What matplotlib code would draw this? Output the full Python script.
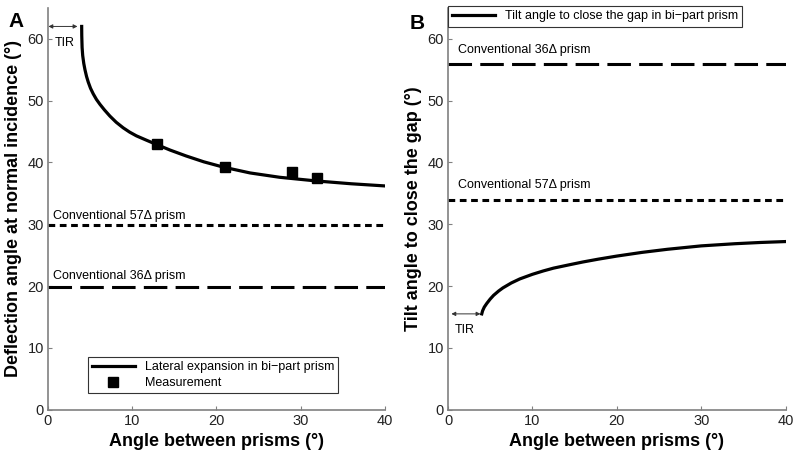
import numpy as np
import matplotlib.pyplot as plt

plt.rcParams['font.family'] = ['Liberation Sans', 'DejaVu Sans']

# ---- data ----
# panel A: lateral expansion in bi-part prism
a_x = [4.0, 4.01, 4.05, 4.12, 4.25, 4.39, 4.58, 4.78, 5.05, 5.37, 5.75, 6.17, 6.7,
       7.35, 8.1, 8.93, 9.7, 10.5, 11.6, 12.9, 14.5, 16.4, 18.5, 20.8, 24.0,
       27.5, 31.9, 36.0, 40.0]
a_y = [62.0, 60.5, 58.6, 57.3, 56.0, 55.0, 53.9, 53.0, 52.0, 51.1, 50.2, 49.4, 48.5,
       47.5, 46.5, 45.6, 44.9, 44.3, 43.65, 42.9, 42.0, 41.05, 40.1, 39.25, 38.3,
       37.6, 37.0, 36.55, 36.2]
meas_x = [13, 21, 29, 32]
meas_y = [43.0, 39.2, 38.5, 37.5]
a_57 = 29.8
a_36 = 19.8

# panel B: tilt angle to close the gap
b_x = [4.0, 4.1, 4.3, 4.6, 5.0, 5.4, 6.0, 6.5, 7.5, 8.5, 10.0, 11.3, 12.5, 14.4,
       16.0, 17.8, 20.0, 23.0, 26.0, 30.0, 34.0, 37.0, 40.0]
b_y = [15.5, 16.0, 16.6, 17.2, 17.9, 18.5, 19.2, 19.7, 20.5, 21.15, 21.9, 22.45,
       22.9, 23.45, 23.9, 24.35, 24.85, 25.45, 25.95, 26.5, 26.85, 27.05, 27.2]
b_36 = 56.0
b_57 = 34.0

xlim = (0, 40)
ylim = (0, 65)

dotted = (0, (2.2, 1.5))
dashed = (0, (7.7, 2.7))
spine_col = '#808080'


def style_axes(ax, ylabel):
    ax.set_xlim(*xlim)
    ax.set_ylim(*ylim)
    ax.set_xticks([0, 10, 20, 30, 40])
    ax.set_yticks([0, 10, 20, 30, 40, 50, 60])
    for s in ['top', 'right']:
        ax.spines[s].set_visible(False)
    for s in ['left', 'bottom']:
        ax.spines[s].set_color(spine_col)
        ax.spines[s].set_linewidth(1.2)
    ax.tick_params(direction='in', length=3, color=spine_col, labelsize=10.5,
                   labelcolor='#222222', pad=3)
    ax.set_xlabel('Angle between prisms (°)', fontsize=13, fontweight='bold', labelpad=4)
    ax.set_ylabel(ylabel, fontsize=13, fontweight='bold', labelpad=4)


fig = plt.figure(figsize=(8, 4.54), dpi=100)
ax1 = fig.add_axes([0.06, 0.0976, 0.421, 0.885])
ax2 = fig.add_axes([0.560, 0.0976, 0.422, 0.885])

# ---- panel A ----
ax1.plot(a_x, a_y, color='black', lw=2.3, solid_joinstyle='round',
         label='Lateral expansion in bi\u2212part prism')
ax1.plot(meas_x, meas_y, 's', color='black', ms=6.5, label='Measurement')
ax1.plot(xlim, [a_57, a_57], color='black', lw=2.2, linestyle=dotted)
ax1.plot(xlim, [a_36, a_36], color='black', lw=2.2, linestyle=dashed)
ax1.text(0.63, a_57 + 1.1, 'Conventional 57\u0394 prism', fontsize=9, va='baseline')
ax1.text(0.63, a_36 + 1.3, 'Conventional 36\u0394 prism', fontsize=9, va='baseline')
ax1.annotate('', xy=(0.05, 62), xytext=(3.5, 62),
             arrowprops=dict(arrowstyle='<|-|>', color='#333333', lw=0.7,
                             mutation_scale=6, shrinkA=0, shrinkB=0))
ax1.text(0.8, 59.3, 'TIR', fontsize=9, va='center')
style_axes(ax1, 'Deflection angle at normal incidence (°)')
leg1 = ax1.legend(loc='lower center', bbox_to_anchor=(0.49, 0.025), fontsize=9,
                  handlelength=3.4, fancybox=False, edgecolor='#333333',
                  framealpha=1, borderpad=0.35, labelspacing=0.3)
leg1.get_frame().set_linewidth(0.8)

# ---- panel B ----
ax2.plot(b_x, b_y, color='black', lw=2.3, solid_joinstyle='round',
         label='Tilt angle to close the gap in bi\u2212part prism')
ax2.plot(xlim, [b_36, b_36], color='black', lw=2.2, linestyle=dashed)
ax2.plot(xlim, [b_57, b_57], color='black', lw=2.2, linestyle=dotted)
ax2.text(1.19, b_36 + 1.7, 'Conventional 36\u0394 prism', fontsize=9, va='baseline')
ax2.text(1.19, b_57 + 1.9, 'Conventional 57\u0394 prism', fontsize=9, va='baseline')
ax2.annotate('', xy=(0.4, 15.5), xytext=(3.85, 15.5),
             arrowprops=dict(arrowstyle='<|-|>', color='#333333', lw=0.7,
                             mutation_scale=6, shrinkA=0, shrinkB=0))
ax2.text(0.8, 12.9, 'TIR', fontsize=9, va='center')
style_axes(ax2, 'Tilt angle to close the gap (°)')
leg2 = ax2.legend(loc='upper left', bbox_to_anchor=(0.0, 1.005), fontsize=9,
                  handlelength=3.4, fancybox=False, edgecolor='#333333',
                  framealpha=1, borderpad=0.35, borderaxespad=0)
leg2.get_frame().set_linewidth(0.8)

fig.text(0.01, 0.974, 'A', fontsize=15, fontweight='bold', va='top')
fig.text(0.512, 0.97, 'B', fontsize=15, fontweight='bold', va='top')

fig.savefig('out.png', dpi=100)
